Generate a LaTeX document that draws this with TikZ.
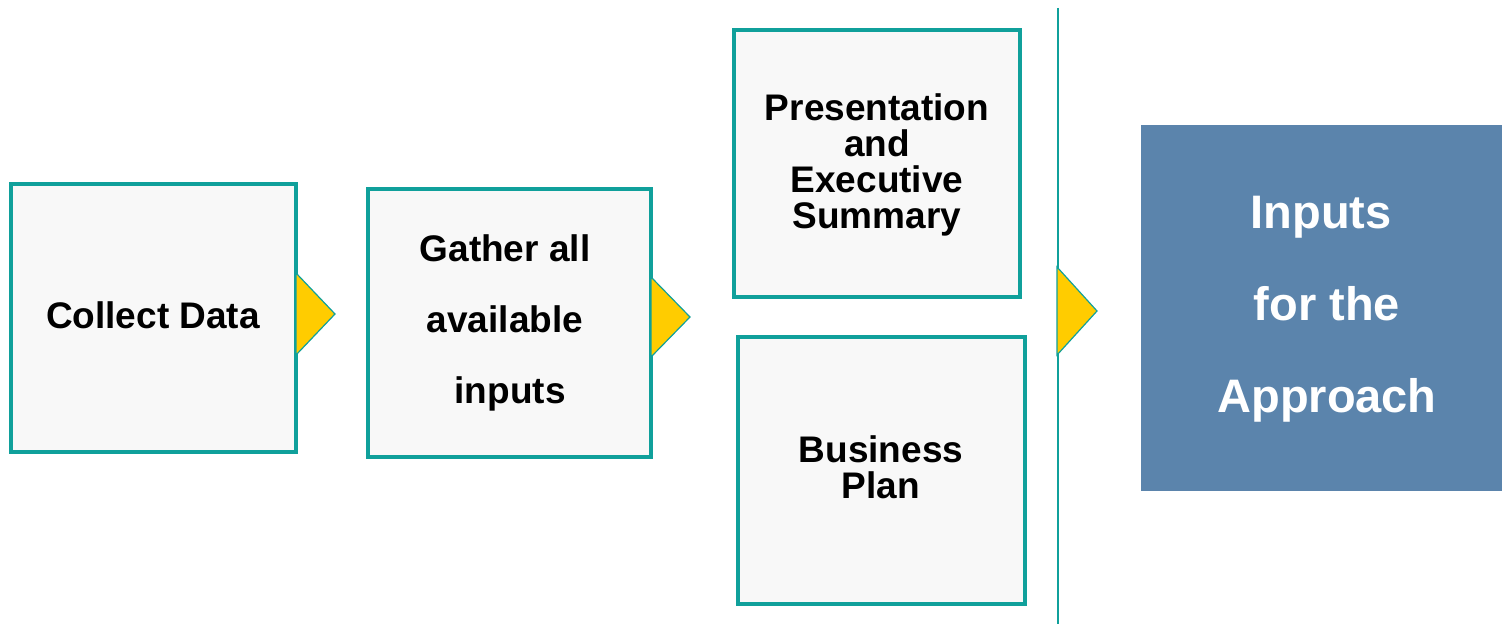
\documentclass[tikz,border=0pt]{standalone}
\usepackage{fontspec}
\setmainfont{Liberation Sans}
\definecolor{teal1}{HTML}{10A09B}
\definecolor{yel}{HTML}{FFCC00}
\definecolor{blu}{HTML}{5B84AC}
\definecolor{boxfill}{HTML}{F8F8F8}
\begin{document}
\begin{tikzpicture}[x=0.5pt,y=-0.5pt,
  stepbox/.style={draw=teal1,line width=2pt,fill=boxfill,inner sep=0pt,outer sep=0pt,align=center},
  tri/.style={draw=teal1,line width=0.6pt,fill=yel,line join=miter},
  txt/.style={font=\bfseries\fontsize{18.5}{18}\selectfont,align=center}]
\useasboundingbox (0,0) rectangle (1502,624);
\fill[white] (0,0) rectangle (1502,624);
% boxes
\node[stepbox,minimum width=142.5pt,minimum height=134pt] (collect) at (153.5,318) {};
\node[stepbox,minimum width=141.5pt,minimum height=134pt] (gather) at (509.5,323) {};
\node[stepbox,minimum width=143pt,minimum height=133.5pt] (pres) at (877,163.5) {};
\node[stepbox,minimum width=143.5pt,minimum height=133.5pt] (plan) at (881.5,470.5) {};
\node[fill=blu,inner sep=0pt,minimum width=180.5pt,minimum height=183pt] (approach) at (1321.5,308) {};
% texts
\node[txt] (tcollect) at (153,315) {Collect Data};
\node[txt,font=\bfseries\fontsize{18.5}{35.5}\selectfont] (tgather) at (505,323) {Gather all\\available\\\ inputs};
\node[txt] (tpres) at (877,165) {Presentation\\and\\Executive\\Summary};
\node[txt] (tplan) at (881,467) {Business\\Plan};
\node[txt,text=white,font=\bfseries\fontsize{23.5}{46}\selectfont] (tappr) at (1327,309) {Inputs\hspace*{6pt}\\for the\\Approach};
% vertical divider
\coordinate (ltop) at (1058,8);
\coordinate (lbot) at (1058,624);
\draw[teal1,line width=1pt] (ltop) -- (lbot);
% triangles
\draw[tri] (collect.east |- 0,273) -- (335,314) -- (collect.east |- 0,355) -- cycle;
\draw[tri] (gather.east |- 0,277) -- (690,317) -- (gather.east |- 0,357) -- cycle;
\draw[tri] (1057,267) -- (1097,311) -- (1057,355) -- cycle;
\end{tikzpicture}
\end{document}
